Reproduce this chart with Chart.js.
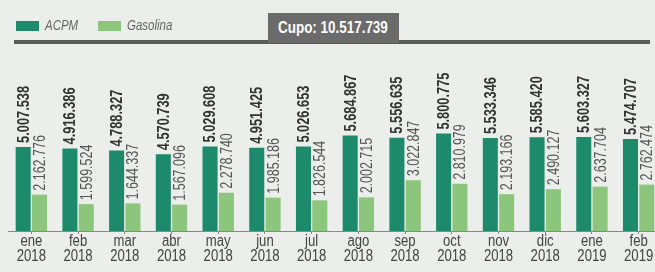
<!DOCTYPE html>
<html><head><meta charset="utf-8">
<script src="https://cdn.jsdelivr.net/npm/chart.js@4/dist/chart.umd.min.js"></script>
<style>
html,body{margin:0;padding:0;width:655px;height:272px;overflow:hidden;background:#eceeeb;}
#wrap{position:relative;width:655px;height:272px;overflow:hidden;}
#c{position:absolute;left:0;top:0;}
.sw{position:absolute;width:23px;height:10px;top:21px;}
.lt{position:absolute;top:17px;font:italic 14px 'Liberation Sans',Arial,sans-serif;color:#666;white-space:nowrap;transform:scaleX(0.82);transform-origin:0 0;}
#rule{position:absolute;left:14px;top:40px;width:636px;height:4px;background:#5a5a5a;}
#cupo{position:absolute;left:268px;top:13px;width:131px;height:30px;background:#6b6b6b;}
#cupo span{position:absolute;left:10px;top:0;color:#fff;font:bold 16px 'Liberation Sans',Arial,sans-serif;line-height:30px;white-space:nowrap;transform:scaleX(0.84);transform-origin:0 0;}
</style></head>
<body><div id="wrap">
<canvas id="c" width="665" height="272" style="width:665px;height:272px"></canvas>
<div class="sw" style="left:16px;background:#1e8a6c"></div><div class="lt" style="left:45px">ACPM</div>
<div class="sw" style="left:98px;background:#8cc57c"></div><div class="lt" style="left:127px">Gasolina</div>
<div id="rule"></div>
<div id="cupo"><span>Cupo: 10.517.739</span></div>
</div>
<script>
const months = ["ene","feb","mar","abr","may","jun","jul","ago","sep","oct","nov","dic","ene","feb"];
const years = ["2018","2018","2018","2018","2018","2018","2018","2018","2018","2018","2018","2018","2019","2019"];
const acpm = [5007538,4916386,4788327,4570739,5029608,4951425,5026653,5684867,5556635,5800775,5533346,5585420,5603327,5474707];
const gasolina = [2162776,1599524,1644337,1567096,2278740,1985186,1826544,2002715,3022847,2810979,2193166,2490127,2637704,2762474];
const labels = months.map((m,i)=>[m, years[i]]);
const fmt = v => String(v).replace(/\B(?=(\d{3})+(?!\d))/g, '.');
const FONT = "'Liberation Sans',Arial,sans-serif";
const NARROW_K = 0.82;

// Condense the axis tick labels (the reference uses a narrow typeface)
const narrowTicks = {
  id:'narrowTicks',
  beforeDraw(chart){
    const ctx = chart.ctx;
    const orig = ctx.fillText;
    ctx._origFillText = orig;
    ctx.fillText = function(t, x, y, mw){
      const w = this.measureText(t).width * NARROW_K;
      return orig.call(this, t, x, y, mw !== undefined ? Math.min(mw, w) : w);
    };
  },
  beforeDatasetsDraw(chart){
    const ctx = chart.ctx;
    if (ctx._origFillText){ ctx.fillText = ctx._origFillText; delete ctx._origFillText; }
  }
};

const valueLabels = {
  id:'valueLabels',
  afterDatasetsDraw(chart){
    const ctx = chart.ctx;
    chart.data.datasets.forEach((ds, di)=>{
      const meta = chart.getDatasetMeta(di);
      meta.data.forEach((bar, i)=>{
        const txt = fmt(ds.data[i]);
        ctx.save();
        ctx.translate(bar.x, bar.y - 4);
        ctx.rotate(-Math.PI/2);
        ctx.font = (di===0 ? 'bold ' : '') + '16px ' + FONT;
        ctx.fillStyle = di===0 ? '#333' : '#555';
        ctx.textAlign = 'left';
        ctx.textBaseline = 'middle';
        ctx.fillText(txt, 0, 1, ctx.measureText(txt).width * (di===0 ? 0.8 : 0.78));
        ctx.restore();
      });
    });
  }
};

new Chart(document.getElementById('c'), {
  type:'bar',
  data:{ labels, datasets:[
    {label:'ACPM', data:acpm, backgroundColor:'#1e8a6c', categoryPercentage:0.7, barPercentage:0.92},
    {label:'Gasolina', data:gasolina, backgroundColor:'#8cc57c', categoryPercentage:0.7, barPercentage:0.92}
  ]},
  options:{
    responsive:false, animation:false,
    layout:{padding:{left:8, right:3, top:60, bottom:0}},
    plugins:{legend:{display:false}, tooltip:{enabled:false}},
    scales:{
      y:{display:false, min:0, max:10180000},
      x:{
        afterFit(s){ s.height = 41; },
        grid:{drawOnChartArea:false, drawTicks:true, tickLength:3, color:'#888', offset:false},
        border:{display:true, color:'#888', width:1},
        ticks:{color:'#444', padding:0, font:{family:FONT, size:16, lineHeight:0.95}, maxRotation:0, autoSkip:false}
      }
    }
  },
  plugins:[narrowTicks, valueLabels]
});
</script>
</body></html>
